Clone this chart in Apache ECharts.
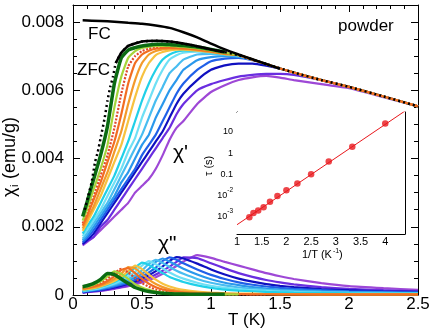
<!DOCTYPE html>
<html>
<head>
<meta charset="utf-8">
<script src="https://cdn.jsdelivr.net/npm/echarts@6/dist/echarts.min.js"></script>
<style>
  html, body { margin: 0; padding: 0; background: #fff; }
  #chart { width: 436px; height: 332px; }
</style>
</head>
<body>
<div id="chart"></div>
<script>
// temperature grid shared by all ac curves (K)
const T = [0.07, 0.1, 0.15, 0.2, 0.25, 0.3, 0.35, 0.4, 0.45, 0.5, 0.55, 0.6, 0.65, 0.7, 0.75, 0.8, 0.9, 1.0, 1.1, 1.2, 1.3, 1.4, 1.5, 1.6, 1.8, 2.0, 2.25, 2.5];

// chi' (emu/g), lowest frequency first
const re01 = [0.0023, 0.0027, 0.0034, 0.0041, 0.00495, 0.0062, 0.00695, 0.00718, 0.00725, 0.0073, 0.00733, 0.00735, 0.00735, 0.00734, 0.00733, 0.00731, 0.00727, 0.0072, 0.00712];
const re02 = [0.00218, 0.0025, 0.0031, 0.0037, 0.0044, 0.0055, 0.0064, 0.00695, 0.00715, 0.00724, 0.00728, 0.0073, 0.0073, 0.0073, 0.00729, 0.00727, 0.00723, 0.00717, 0.0071, 0.00703];
const re03 = [0.0021, 0.0024, 0.0029, 0.0035, 0.0041, 0.0049, 0.0059, 0.0067, 0.007, 0.00715, 0.00722, 0.00726, 0.00727, 0.00727, 0.00726, 0.00725, 0.00721, 0.00715, 0.00709, 0.00703, 0.0069, 0.00677, 0.00664, 0.00652, 0.0063, 0.0061, 0.00582, 0.00553];
const re04 = [0.00203, 0.0023, 0.0028, 0.0033, 0.0039, 0.0045, 0.0053, 0.0062, 0.0068, 0.00705, 0.00716, 0.00722, 0.00724, 0.00725, 0.00724, 0.00723, 0.0072, 0.00714, 0.00708, 0.00703, 0.0069, 0.00677, 0.00664, 0.00652, 0.0063, 0.0061, 0.00582, 0.00553];
const re05 = [0.00195, 0.0022, 0.0026, 0.0031, 0.0036, 0.0042, 0.0048, 0.0056, 0.0063, 0.0068, 0.00705, 0.00715, 0.0072, 0.00722, 0.00722, 0.00721, 0.00718, 0.00713, 0.00707, 0.00703, 0.0069, 0.00677, 0.00664, 0.00652, 0.0063, 0.0061, 0.00582, 0.00553];
const re06 = [0.00188, 0.0021, 0.0025, 0.0029, 0.0034, 0.0039, 0.0044, 0.0051, 0.0058, 0.0064, 0.0068, 0.00703, 0.00712, 0.00717, 0.00719, 0.00719, 0.00716, 0.00712, 0.00706, 0.00703, 0.0069, 0.00677, 0.00664, 0.00652, 0.0063, 0.0061, 0.00582, 0.00553];
const re07 = [0.0018, 0.002, 0.0023, 0.0027, 0.0031, 0.0035, 0.004, 0.0045, 0.0051, 0.0057, 0.0062, 0.0066, 0.0069, 0.00705, 0.00713, 0.00716, 0.00716, 0.00711, 0.00705, 0.00703, 0.0069, 0.00677, 0.00664, 0.00652, 0.0063, 0.0061, 0.00582, 0.00553];
const re08 = [0.00172, 0.0019, 0.0022, 0.0025, 0.0029, 0.0033, 0.0037, 0.0042, 0.0046, 0.0052, 0.0057, 0.0062, 0.0066, 0.0069, 0.00703, 0.0071, 0.00713, 0.0071, 0.00705, 0.00703, 0.0069, 0.00677, 0.00664, 0.00652, 0.0063, 0.0061, 0.00582, 0.00553];
const re09 = [0.00165, 0.0018, 0.0021, 0.0024, 0.0027, 0.0031, 0.0035, 0.0039, 0.0043, 0.0047, 0.0052, 0.0057, 0.0061, 0.0065, 0.0067, 0.0069, 0.00705, 0.00707, 0.00704, 0.007, 0.0069, 0.00677, 0.00664, 0.00652, 0.0063, 0.0061, 0.00582, 0.00553];
const re10 = [0.0016, 0.00172, 0.002, 0.0023, 0.0026, 0.0029, 0.0033, 0.0036, 0.004, 0.0044, 0.0047, 0.0052, 0.0056, 0.006, 0.0063, 0.0066, 0.00688, 0.00697, 0.007, 0.00698, 0.0069, 0.00677, 0.00664, 0.00652, 0.0063, 0.0061, 0.00582, 0.00553];
const re11 = [0.00155, 0.00166, 0.0019, 0.0022, 0.0025, 0.0028, 0.0031, 0.0034, 0.0037, 0.0041, 0.0044, 0.0047, 0.0051, 0.0055, 0.0059, 0.0062, 0.0066, 0.00685, 0.00693, 0.00695, 0.00688, 0.00677, 0.00664, 0.00652, 0.0063, 0.0061, 0.00582, 0.00553];
const re12 = [0.0015, 0.0016, 0.0018, 0.0021, 0.0024, 0.0027, 0.003, 0.0033, 0.0036, 0.0039, 0.0042, 0.0045, 0.0048, 0.0052, 0.0056, 0.0059, 0.0063, 0.0066, 0.00673, 0.00678, 0.00678, 0.00672, 0.00663, 0.00652, 0.0063, 0.0061, 0.00582, 0.00553];
const re13 = [0.00148, 0.00158, 0.0017, 0.002, 0.0022, 0.0025, 0.0028, 0.0031, 0.0034, 0.0037, 0.004, 0.0043, 0.0046, 0.0049, 0.0053, 0.0056, 0.006, 0.00618, 0.0063, 0.0064, 0.00645, 0.00648, 0.00648, 0.00645, 0.0063, 0.0061, 0.00582, 0.00553];
const re14 = [0.00145, 0.00155, 0.0017, 0.0019, 0.0021, 0.0023, 0.0025, 0.0027, 0.003, 0.0032, 0.0034, 0.0037, 0.0041, 0.00455, 0.0049, 0.0051, 0.0056, 0.00595, 0.00615, 0.0063, 0.00638, 0.00642, 0.00637, 0.0063, 0.00618, 0.00606, 0.0058, 0.00553];

// chi'' (emu/g), same order
const im01 = [0.00024, 0.00027, 0.00034, 0.00046, 0.00063, 0.0006, 0.00047, 0.00034, 0.00022, 0.00015, 0.0001, 0.00007, 0.00005, 0.00004, 0.00003, 0.00003, 0.00002, 0.00002, 0.00002];
const im02 = [0.00022, 0.00024, 0.0003, 0.0004, 0.00055, 0.00069, 0.00062, 0.00047, 0.00032, 0.00022, 0.00015, 0.0001, 0.00007, 0.00005, 0.00004, 0.00003, 0.00002, 0.00002, 0.00002, 0.00002];
const im03 = [0.0002, 0.00022, 0.00027, 0.00035, 0.00047, 0.00064, 0.00077, 0.00066, 0.0005, 0.00035, 0.00024, 0.00016, 0.00011, 0.00008, 0.00006, 0.00005, 0.00003, 0.00002, 0.00002, 0.00002, 0.00002, 0.00002];
const im04 = [0.00019, 0.00021, 0.00025, 0.00031, 0.00041, 0.00055, 0.00074, 0.00079, 0.00064, 0.00047, 0.00033, 0.00023, 0.00016, 0.00012, 0.00009, 0.00007, 0.00005, 0.00004, 0.00003, 0.00003, 0.00002, 0.00002, 0.00002, 0.00002, 0.00002, 0.00002, 0.00002, 0.00002];
const im05 = [0.00017, 0.00019, 0.00023, 0.00028, 0.00036, 0.00047, 0.00062, 0.00082, 0.00078, 0.00062, 0.00045, 0.00032, 0.00023, 0.00017, 0.00013, 0.0001, 0.00007, 0.00005, 0.00004, 0.00003, 0.00003, 0.00003, 0.00002, 0.00002, 0.00002, 0.00002, 0.00002, 0.00002];
const im06 = [0.00016, 0.00017, 0.0002, 0.00025, 0.00032, 0.00041, 0.00053, 0.0007, 0.00086, 0.00076, 0.0006, 0.00045, 0.00033, 0.00025, 0.00019, 0.00015, 0.0001, 0.00007, 0.00005, 0.00004, 0.00004, 0.00003, 0.00003, 0.00003, 0.00002, 0.00002, 0.00002, 0.00002];
const im07 = [0.00013, 0.00015, 0.00019, 0.00024, 0.0003, 0.00038, 0.00049, 0.00063, 0.0008, 0.00095, 0.00088, 0.00076, 0.00064, 0.00053, 0.00045, 0.00038, 0.00028, 0.00021, 0.00016, 0.00013, 0.00011, 0.00009, 0.00008, 0.00007, 0.00006, 0.00005, 0.00004, 0.00004];
const im08 = [0.00012, 0.00014, 0.00017, 0.00021, 0.00027, 0.00034, 0.00043, 0.00054, 0.00068, 0.00086, 0.00099, 0.0009, 0.00078, 0.00066, 0.00056, 0.00048, 0.00036, 0.00027, 0.00021, 0.00017, 0.00014, 0.00012, 0.0001, 0.00009, 0.00007, 0.00006, 0.00005, 0.00004];
const im09 = [0.00011, 0.00013, 0.00016, 0.0002, 0.00025, 0.00031, 0.00038, 0.00047, 0.00058, 0.00072, 0.00092, 0.00103, 0.00094, 0.00082, 0.00071, 0.00062, 0.00047, 0.00036, 0.00028, 0.00022, 0.00018, 0.00015, 0.00013, 0.00011, 0.00009, 0.00007, 0.00006, 0.00005];
const im10 = [0.0001, 0.00012, 0.00015, 0.00018, 0.00023, 0.00028, 0.00034, 0.00042, 0.00051, 0.00062, 0.00077, 0.00097, 0.00107, 0.00098, 0.00087, 0.00077, 0.0006, 0.00046, 0.00036, 0.00029, 0.00023, 0.00019, 0.00016, 0.00014, 0.00011, 0.00009, 0.00007, 0.00006];
const im11 = [0.00009, 0.00011, 0.00013, 0.00016, 0.0002, 0.00025, 0.0003, 0.00037, 0.00045, 0.00054, 0.00066, 0.0008, 0.001, 0.0011, 0.00103, 0.00093, 0.00075, 0.00059, 0.00047, 0.00037, 0.0003, 0.00025, 0.00021, 0.00018, 0.00014, 0.00011, 0.00009, 0.00007];
const im12 = [0.00008, 0.0001, 0.00012, 0.00015, 0.00018, 0.00022, 0.00027, 0.00033, 0.0004, 0.00048, 0.00058, 0.0007, 0.00084, 0.001, 0.00111, 0.00107, 0.00092, 0.00075, 0.0006, 0.00048, 0.00039, 0.00032, 0.00027, 0.00023, 0.00017, 0.00014, 0.00011, 0.00009];
const im13 = [0.00007, 0.00009, 0.00011, 0.00013, 0.00016, 0.0002, 0.00024, 0.00029, 0.00035, 0.00042, 0.0005, 0.0006, 0.00071, 0.00083, 0.00097, 0.0011, 0.00108, 0.00093, 0.00078, 0.00064, 0.00053, 0.00044, 0.00037, 0.00031, 0.00023, 0.00018, 0.00014, 0.00011];
const im14 = [0.00006, 0.00008, 0.0001, 0.00012, 0.00015, 0.00018, 0.00022, 0.00026, 0.00031, 0.00037, 0.00044, 0.00052, 0.00062, 0.00073, 0.00085, 0.00098, 0.00117, 0.00109, 0.00097, 0.00086, 0.00075, 0.00064, 0.00055, 0.00047, 0.00035, 0.00026, 0.0002, 0.00015];

const colors = ['#0b6b12', '#a6d53a', '#e0482c', '#f26d22', '#f39a2a', '#f7c240', '#20d0e8', '#6fe0f5',
                '#48bdf0', '#2a98ec', '#2060e8', '#1010c0', '#6a2ee0', '#9e48d6'];
// drawing order, last on top
const drawOrder = [13, 12, 11, 10, 9, 8, 7, 6, 5, 2, 4, 3, 1, 0];

// dc magnetisation
const tFC = [0.07, 0.2, 0.3, 0.4, 0.5, 0.6, 0.7, 0.8, 0.9, 1.0, 1.1, 1.2, 1.3, 1.4, 1.5];
const chiFC = [0.00805, 0.00803, 0.00801, 0.00798, 0.00795, 0.0079, 0.00783, 0.0077, 0.00755, 0.00737, 0.0072, 0.00705, 0.00691, 0.00677, 0.00663];
const tZFC = [0.085, 0.11, 0.135, 0.16, 0.18, 0.2, 0.23, 0.25, 0.27, 0.29, 0.31, 0.35, 0.4, 0.5, 0.6, 0.7, 0.8, 0.9, 1.0, 1.1, 1.2, 1.4, 1.6, 1.8, 2.0, 2.25, 2.5];
const chiZFC = [0.0025, 0.0029, 0.0033, 0.0039, 0.0042, 0.0046, 0.0052, 0.0057, 0.0061, 0.0064, 0.0068, 0.0071, 0.0073, 0.00743, 0.00745, 0.00743, 0.00737, 0.00729, 0.0072, 0.00712, 0.00703, 0.00677, 0.00652, 0.0063, 0.0061, 0.00582, 0.00553];

// inset: relaxation time
const invT = [1.25, 1.333, 1.429, 1.538, 1.667, 1.818, 2.0, 2.222, 2.5, 2.857, 3.333, 4.0];
const tau = [7.4e-4, 1.17e-3, 1.55e-3, 2.2e-3, 4.0e-3, 7.4e-3, 0.014, 0.029, 0.081, 0.32, 1.6, 20];
const fitX = [1, 4.4];
const fitY = [3.3e-4, 78];

const reList = [re01, re02, re03, re04, re05, re06, re07, re08, re09, re10, re11, re12, re13, re14];
const imList = [im01, im02, im03, im04, im05, im06, im07, im08, im09, im10, im11, im12, im13, im14];

const FONT = '"Liberation Sans", Arial, Helvetica, sans-serif';

function pairs(xs, ys) {
    return ys.map(function (y, i) { return [xs[i], y]; });
}

function tickAxis(extra, len, labels) {
    return Object.assign({
        type: 'value',
        axisLine: {show: !!labels, onZero: false, lineStyle: {color: '#000', width: 1}},
        axisTick: {show: true, inside: true, length: len, lineStyle: {color: '#000', width: 1}},
        axisLabel: {show: false},
        splitLine: {show: false}
    }, extra);
}

function onStep(step, digits) {
    return function (v) {
        let k = Math.round(v / step);
        if (Math.abs(v - k * step) > step * 1e-4) return '';
        return k === 0 ? '0' : String(+(k * step).toFixed(digits));
    };
}

let series = [];
drawOrder.forEach(function (k) {
    let w = k === 0 ? 3.5 : 2.2;
    let style = {color: colors[k], width: w, type: k === 2 ? [2, 1.5] : 'solid'};
    series.push({
        type: 'line', xAxisIndex: 0, yAxisIndex: 0, data: pairs(T, reList[k]),
        showSymbol: false, smooth: 0.15, lineStyle: style, z: 2
    });
    series.push({
        type: 'line', xAxisIndex: 0, yAxisIndex: 0, data: pairs(T, imList[k]),
        showSymbol: false, smooth: 0.15, lineStyle: style, z: 2
    });
});
series.push({
    type: 'line', xAxisIndex: 0, yAxisIndex: 0, data: pairs(tZFC, chiZFC),
    showSymbol: false, smooth: 0.15,
    lineStyle: {color: '#000', width: 2.5, type: [2, 3]}, z: 3
});
series.push({
    type: 'line', xAxisIndex: 0, yAxisIndex: 0, data: pairs(tZFC, chiZFC).slice(10, 20),
    showSymbol: false, smooth: 0.15,
    lineStyle: {color: '#000', width: 2.5}, z: 3
});
series.push({
    type: 'line', xAxisIndex: 0, yAxisIndex: 0, data: pairs(tFC, chiFC),
    showSymbol: false, smooth: 0.15,
    lineStyle: {color: '#000', width: 2.5}, z: 4
});
series.push({
    type: 'line', xAxisIndex: 4, yAxisIndex: 4, data: pairs(fitX, fitY),
    showSymbol: false, clip: true,
    lineStyle: {color: '#e8161b', width: 1}, z: 5
});
series.push({
    type: 'scatter', xAxisIndex: 4, yAxisIndex: 4, data: pairs(invT, tau),
    symbolSize: 6.5, itemStyle: {color: '#e8161b'}, z: 6
});

function logLabel(v) {
    let l = Math.log10(v);
    let e = Math.round(l);
    if (Math.abs(l - e) > 0.01) return '';
    if (e === 1) return '{b|10}';
    if (e === 0) return '{b|1}';
    if (e === -1) return '{b|0.1}';
    return '{b|10}{s|' + e + '}';
}

const txt = function (text, x, y, size, extra) {
    return Object.assign({
        type: 'text', x: x, y: y, z: 10,
        style: {text: text, fontSize: size, fontFamily: FONT, fill: '#000', verticalAlign: 'middle'}
    }, extra || {});
};

let chart = echarts.init(document.getElementById('chart'));
chart.setOption({
    animation: false,
    backgroundColor: '#fff',
    grid: [
        {left: 73, right: 18, top: 5, bottom: 37},
        {left: 237, right: 31, top: 112, bottom: 98, show: true, backgroundColor: '#fff', borderWidth: 0, z: 5}
    ],
    xAxis: [
        tickAxis({gridIndex: 0, position: 'bottom', min: 0, max: 2.5, interval: 0.5,
            axisLabel: {show: true, color: '#000', fontSize: 17, fontFamily: FONT, margin: 1, formatter: onStep(0.5, 1)}}, 7, true),
        tickAxis({gridIndex: 0, position: 'bottom', min: 0, max: 2.5, interval: 0.1}, 4, false),
        tickAxis({gridIndex: 0, position: 'top', min: 0, max: 2.5, interval: 0.5}, 7, true),
        tickAxis({gridIndex: 0, position: 'top', min: 0, max: 2.5, interval: 0.1}, 4, false),
        tickAxis({gridIndex: 1, position: 'bottom', min: 1, max: 4.4, interval: 0.5,
            axisLabel: {show: true, color: '#000', fontSize: 11, fontFamily: FONT, margin: 2, formatter: onStep(0.5, 1)}}, 4, true),
        tickAxis({gridIndex: 1, position: 'bottom', min: 1, max: 4.4, interval: 0.25}, 2.5, false),
        tickAxis({gridIndex: 1, position: 'top', min: 1, max: 4.4, interval: 0.5}, 4, true),
        tickAxis({gridIndex: 1, position: 'top', min: 1, max: 4.4, interval: 0.25}, 2.5, false)
    ],
    yAxis: [
        tickAxis({gridIndex: 0, position: 'left', min: 0, max: 0.0085, interval: 0.002,
            axisLabel: {show: true, color: '#000', fontSize: 17, fontFamily: FONT, margin: 9,
                formatter: function (v) {
                    let k = Math.round(v / 0.002);
                    if (Math.abs(v - k * 0.002) > 1e-7) return '';
                    return k === 0 ? '0' : (k * 0.002).toFixed(3);
                }}}, 7, true),
        tickAxis({gridIndex: 0, position: 'left', min: 0, max: 0.0085, interval: 0.0005}, 4, false),
        tickAxis({gridIndex: 0, position: 'right', min: 0, max: 0.0085, interval: 0.002}, 7, true),
        tickAxis({gridIndex: 0, position: 'right', min: 0, max: 0.0085, interval: 0.0005}, 4, false),
        {
            type: 'log', logBase: 10, gridIndex: 1, position: 'left', min: 1.2e-4, max: 70,
            axisLine: {show: true, lineStyle: {color: '#000', width: 1}},
            axisTick: {inside: true, length: 4, lineStyle: {color: '#000'}},
            minorTick: {show: true, splitNumber: 4, length: 2, lineStyle: {color: '#000'}},
            splitLine: {show: false}, minorSplitLine: {show: false},
            axisLabel: {
                color: '#000', margin: 4, fontFamily: FONT, formatter: logLabel,
                rich: {
                    b: {fontSize: 9, fontFamily: FONT, color: '#000', lineHeight: 13, verticalAlign: 'bottom'},
                    s: {fontSize: 6.5, fontFamily: FONT, color: '#000', lineHeight: 13, verticalAlign: 'top'}
                }
            }
        },
        {
            type: 'log', logBase: 10, gridIndex: 1, position: 'right', min: 1.2e-4, max: 70,
            axisLine: {show: true, lineStyle: {color: '#000', width: 1}},
            axisTick: {inside: true, length: 4, lineStyle: {color: '#000'}},
            minorTick: {show: true, splitNumber: 4, length: 2, lineStyle: {color: '#000'}},
            splitLine: {show: false}, minorSplitLine: {show: false},
            axisLabel: {show: false}
        }
    ],
    graphic: [
        txt('FC', 88, 34, 17),
        txt('ZFC', 77, 70, 17),
        txt('powder', 338, 26, 17),
        txt("χ'", 173, 153, 21),
        txt('χ"', 158, 244, 21),
        txt('T (K)', 228, 320, 17),
        // rotated y label, read bottom to top
        txt('χ', 10, 197, 18, {rotation: Math.PI / 2}),
        txt('i', 15, 187, 11, {rotation: Math.PI / 2}),
        txt('(emu/g)', 10, 179, 18, {rotation: Math.PI / 2}),
        txt('τ (s)', 209, 176, 11, {rotation: Math.PI / 2}),
        txt('1/T (K', 302, 255, 11),
        txt('-1', 333, 251, 7),
        txt(')', 339, 255, 11)
    ],
    series: series
});
</script>
</body>
</html>
